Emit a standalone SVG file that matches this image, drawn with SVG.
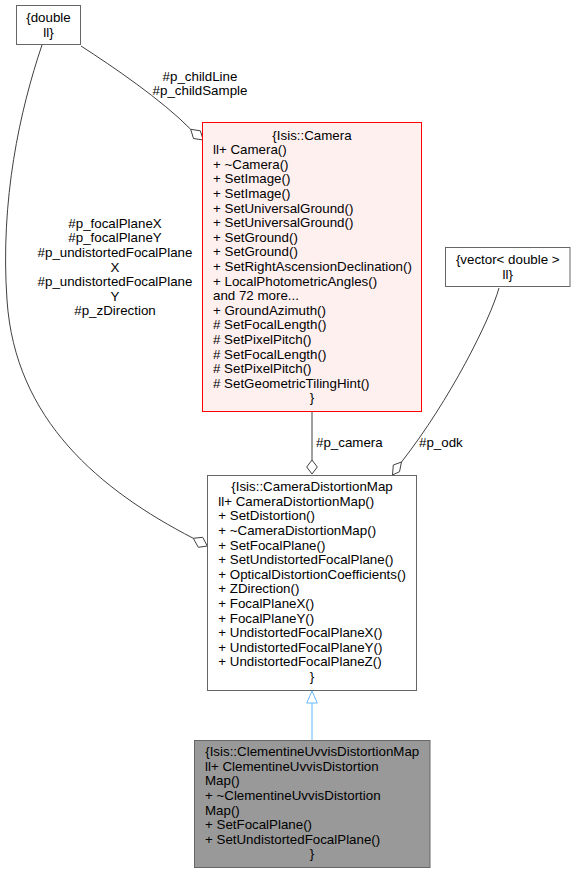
<svg xmlns="http://www.w3.org/2000/svg" width="575" height="873" viewBox="0 0 575 873">
<style>
text{font-family:"Liberation Sans",Arial,sans-serif;font-size:13.33px;fill:#000}
.c{text-anchor:middle}
.box{fill:#fff;stroke:#666;stroke-width:1}
.edge{fill:none;stroke:#404040;stroke-width:1}
.dia{fill:#fff;stroke:#404040;stroke-width:1}
</style>
<rect width="575" height="873" fill="#fff"/>
<g id="connectors">
<path class="edge" d="M81,46 C112,66 162,100 190.7,129.3"/>
<polygon class="dia" points="203.3,140 193.5,138.5 190.7,129.3 200.3,130.8"/>
<path class="edge" d="M42,45 C20,110 0,200 7,300 C15,420 100,490 193.3,538.3"/>
<polygon class="dia" points="207.3,546 198.3,547.3 193.3,538.3 202.7,537.3"/>
<path class="edge" d="M312,412 L312,460"/>
<polygon class="dia" points="312,474 306.7,467 312,460 317.3,467"/>
<path class="edge" d="M499,288 C490,320 450,400 401.5,462"/>
<polygon class="dia" points="392.5,475 393.3,465 401.5,462 399.5,471.7"/>
<path fill="none" stroke="#63b8ff" d="M312,740 L312,703"/>
<polygon fill="#fff" stroke="#63b8ff" points="312,691 306.7,703 317.3,703"/>
<text x="200" y="80.5" class="c">#p_childLine</text>
<text x="200" y="94.6" class="c">#p_childSample</text>
<text x="115" y="227.8" class="c">#p_focalPlaneX</text>
<text x="115" y="242.4" class="c">#p_focalPlaneY</text>
<text x="115" y="257" class="c">#p_undistortedFocalPlane</text>
<text x="115" y="271.6" class="c">X</text>
<text x="115" y="286.2" class="c">#p_undistortedFocalPlane</text>
<text x="115" y="300.8" class="c">Y</text>
<text x="115" y="315.4" class="c">#p_zDirection</text>
<text x="316" y="447.2">#p_camera</text>
<text x="419" y="447.2">#p_odk</text>
</g>
<g id="node_double">
<rect class="box" x="16.5" y="5.5" width="64" height="39"/>
<text x="48.5" y="22.2" class="c">{double</text>
<text x="48.5" y="36.8" class="c">ll}</text>
</g>
<g id="node_vector">
<rect class="box" x="445.5" y="247.5" width="124.5" height="39"/>
<text x="507.75" y="264.2" class="c">{vector&lt; double &gt;</text>
<text x="507.75" y="278.8" class="c">ll}</text>
</g>
<g id="node_camera">
<rect x="202.5" y="122.5" width="219" height="289" fill="#fff0f0" stroke="#ff0000"/>
<text x="312" y="139.5" class="c">{Isis::Camera</text>
<text x="213" y="154.1">ll+ Camera()</text>
<text x="213" y="168.7">+ ~Camera()</text>
<text x="213" y="183.3">+ SetImage()</text>
<text x="213" y="197.9">+ SetImage()</text>
<text x="213" y="212.5">+ SetUniversalGround()</text>
<text x="213" y="227.1">+ SetUniversalGround()</text>
<text x="213" y="241.7">+ SetGround()</text>
<text x="213" y="256.3">+ SetGround()</text>
<text x="213" y="270.9">+ SetRightAscensionDeclination()</text>
<text x="213" y="285.5">+ LocalPhotometricAngles()</text>
<text x="213" y="300.1">and 72 more...</text>
<text x="213" y="314.7">+ GroundAzimuth()</text>
<text x="213" y="329.3"># SetFocalLength()</text>
<text x="213" y="343.9"># SetPixelPitch()</text>
<text x="213" y="358.5"># SetFocalLength()</text>
<text x="213" y="373.1"># SetPixelPitch()</text>
<text x="213" y="387.7"># SetGeometricTilingHint()</text>
<text x="312" y="402.3" class="c">}</text>
</g>
<g id="node_cameradistortionmap">
<rect class="box" x="207.5" y="475.5" width="209" height="215"/>
<text x="312" y="491.2" class="c">{Isis::CameraDistortionMap</text>
<text x="218.3" y="505.8">ll+ CameraDistortionMap()</text>
<text x="218.3" y="520.4">+ SetDistortion()</text>
<text x="218.3" y="535">+ ~CameraDistortionMap()</text>
<text x="218.3" y="549.6">+ SetFocalPlane()</text>
<text x="218.3" y="564.2">+ SetUndistortedFocalPlane()</text>
<text x="218.3" y="578.8">+ OpticalDistortionCoefficients()</text>
<text x="218.3" y="593.4">+ ZDirection()</text>
<text x="218.3" y="608">+ FocalPlaneX()</text>
<text x="218.3" y="622.6">+ FocalPlaneY()</text>
<text x="218.3" y="637.2">+ UndistortedFocalPlaneX()</text>
<text x="218.3" y="651.8">+ UndistortedFocalPlaneY()</text>
<text x="218.3" y="666.4">+ UndistortedFocalPlaneZ()</text>
<text x="312" y="681" class="c">}</text>
</g>
<g id="node_clementine">
<rect x="194.5" y="740.5" width="235.5" height="127" fill="#999999" stroke="#666"/>
<text x="312.25" y="756.2" class="c">{Isis::ClementineUvvisDistortionMap</text>
<text x="205" y="770.8">ll+ ClementineUvvisDistortion</text>
<text x="205" y="785.4">Map()</text>
<text x="205" y="800">+ ~ClementineUvvisDistortion</text>
<text x="205" y="814.6">Map()</text>
<text x="205" y="829.2">+ SetFocalPlane()</text>
<text x="205" y="843.8">+ SetUndistortedFocalPlane()</text>
<text x="312" y="858.4" class="c">}</text>
</g>
</svg>
